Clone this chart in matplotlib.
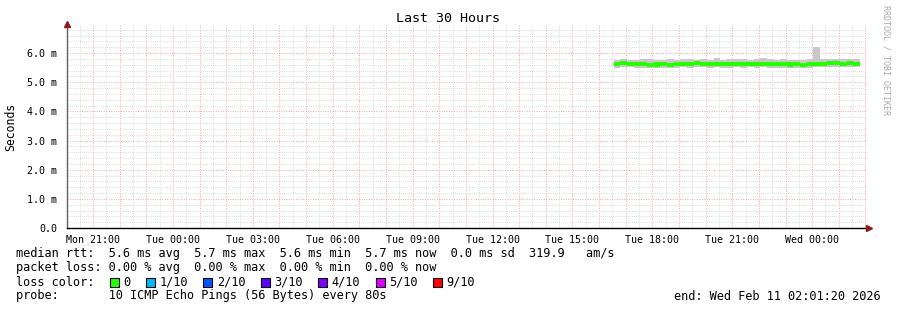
import matplotlib
matplotlib.use("Agg")
import matplotlib.pyplot as plt
from matplotlib.patches import Rectangle
import numpy as np

W, H = 897, 310
DPI = 100

# ---------------- data ----------------
title = "Last 30 Hours"
x_start = 20.0222          # hours since Mon 00:00 (Mon 20:01:20)
x_end = 50.0222            # Wed 02:01:20
bin_start = 40.55          # first data bin (hours since Mon 00:00)
bin_step = 0.25            # hours per bin
median_ms = [5.64, 5.65, 5.63, 5.62, 5.62, 5.60, 5.61, 5.62, 5.60, 5.62,
             5.63, 5.64, 5.65, 5.64, 5.63, 5.64, 5.63, 5.62, 5.64, 5.63,
             5.62, 5.62, 5.63, 5.64, 5.62, 5.63, 5.61, 5.62, 5.60, 5.62,
             5.64, 5.64, 5.65, 5.65, 5.64, 5.65, 5.64]
smoke_lo = [5.50, 5.51, 5.51, 5.48, 5.50, 5.49, 5.50, 5.48, 5.49, 5.50,
            5.51, 5.50, 5.51, 5.52, 5.49, 5.51, 5.48, 5.50, 5.51, 5.49,
            5.51, 5.48, 5.51, 5.50, 5.50, 5.48, 5.50, 5.49, 5.48, 5.50,
            5.51, 5.52, 5.52, 5.51, 5.52, 5.51, 5.52]
smoke_hi = [5.78, 5.80, 5.77, 5.76, 5.80, 5.81, 5.77, 5.77, 5.79, 5.78,
            5.80, 5.81, 5.78, 5.80, 5.78, 5.82, 5.78, 5.80, 5.79, 5.81,
            5.78, 5.80, 5.82, 5.79, 5.78, 5.79, 5.78, 5.77, 5.76, 5.80,
            6.20, 5.81, 5.80, 5.80, 5.81, 5.80, 5.81]
y_ticks = [0, 1, 2, 3, 4, 5, 6]
y_tick_labels = ["0.0", "1.0 m", "2.0 m", "3.0 m", "4.0 m", "5.0 m", "6.0 m"]
x_label_hours = [21, 24, 27, 30, 33, 36, 39, 42, 45, 48]
x_tick_labels = ["Mon 21:00", "Tue 00:00", "Tue 03:00", "Tue 06:00", "Tue 09:00",
                 "Tue 12:00", "Tue 15:00", "Tue 18:00", "Tue 21:00", "Wed 00:00"]
legend_lines = [
    "median rtt:  5.6 ms avg  5.7 ms max  5.6 ms min  5.7 ms now  0.0 ms sd  319.9   am/s",
    "packet loss: 0.00 % avg  0.00 % max  0.00 % min  0.00 % now",
]
loss_labels = ["0", "1/10", "2/10", "3/10", "4/10", "5/10", "9/10"]
loss_colors = ["#26ff00", "#00b8ff", "#0059ff", "#5e00ff", "#7e00ff", "#dd00ff", "#ff0000"]
probe_text = "probe:       10 ICMP Echo Pings (56 Bytes) every 80s"
end_text = "end: Wed Feb 11 02:01:20 2026"
ylabel = "Seconds"
watermark = "RRDTOOL / TOBI OETIKER"

# ---------------- figure ----------------
plt.rcParams['font.family'] = ['DejaVu Sans Mono']
fig = plt.figure(figsize=(W / DPI, H / DPI), dpi=DPI)
fig.patch.set_facecolor("white")

def fx(px):
    return px / W

def fy(py):
    return 1 - py / H

L, R, T, B = 67, 866, 24, 228
ax = fig.add_axes([fx(L), fy(B), fx(R) - fx(L), fy(T) - fy(B)])
ax.set_xlim(x_start, x_end)
ax.set_ylim(0, 7.0)
for s in ["top", "right"]:
    ax.spines[s].set_visible(False)
ax.spines["left"].set_color("#606060")
ax.spines["bottom"].set_color("#000000")
ax.spines["left"].set_linewidth(1)
ax.spines["bottom"].set_linewidth(1)

# grid
minor_c = "#d2d2d2"
major_c = "#f4a8a8"
minor_y = np.arange(0.2, 7.0, 0.2)
for yv in minor_y:
    if abs(yv - round(yv)) > 1e-6:
        ax.axhline(yv, color=minor_c, lw=0.6, ls=(0, (1, 1.5)), zorder=0)
for yv in y_ticks[1:]:
    ax.axhline(yv, color=major_c, lw=0.7, ls=(0, (1, 1.5)), zorder=0)
hh = np.arange(20.5, 50.01, 0.5)
for xv in hh:
    if abs(xv - round(xv)) > 1e-6:
        ax.axvline(xv, color=minor_c, lw=0.6, ls=(0, (1, 1.5)), zorder=0)
    else:
        ax.axvline(xv, color=major_c, lw=0.7, ls=(0, (1, 1.5)), zorder=0)

# smoke + median
xs = bin_start + bin_step * np.arange(len(median_ms))
lo = np.array(smoke_lo)
hi = np.array(smoke_hi)
med = np.array(median_ms)
ax.bar(xs, hi - lo, bottom=lo, width=bin_step, align="edge", color="#c8c8c8",
       linewidth=0, zorder=2)
ax.bar(xs, 0.14, bottom=med - 0.07, width=bin_step, align="edge", color=loss_colors[0],
       linewidth=0, zorder=3)

# ticks
ax.set_yticks(y_ticks)
ax.set_yticklabels(y_tick_labels, fontsize=7.2)
ax.set_xticks(x_label_hours)
ax.set_xticklabels(x_tick_labels, fontsize=7.2)
ax.tick_params(axis="y", length=0, pad=7)
ax.tick_params(axis="x", length=0, pad=5)

# arrows
ax.plot([x_start], [7.0], marker="^", color="#8b1a1a", markersize=4, clip_on=False, zorder=5)
ax.plot([x_end + 0.1], [0], marker=">", color="#8b1a1a", markersize=4, clip_on=False, zorder=5)

# texts
fig.text(fx(448), fy(19), title, ha="center", va="center", fontsize=9.6)
fig.text(fx(11), fy(127), ylabel, ha="center", va="center", rotation=90, fontsize=8.3)
fig.text(fx(886), fy(5), watermark, ha="center", va="top", rotation=-90,
         fontsize=6, color="#aaaaaa")

cw = 7.17
x0 = 16
fs = 8.6
fig.text(fx(x0), fy(254), legend_lines[0], ha="left", va="center", fontsize=fs)
fig.text(fx(x0), fy(268), legend_lines[1], ha="left", va="center", fontsize=fs)
fig.text(fx(x0), fy(282), "loss color:", ha="left", va="center", fontsize=fs)
col = 13
for lab, c in zip(loss_labels, loss_colors):
    sx = x0 + col * cw + 1
    fig.patches.append(Rectangle((fx(sx), fy(287)), fx(9), 9 / H, transform=fig.transFigure,
                                 facecolor=c, edgecolor="black", linewidth=0.8))
    fig.text(fx(x0 + (col + 2) * cw), fy(282), lab, ha="left", va="center", fontsize=fs)
    col += 2 + len(lab) + 2
fig.text(fx(x0), fy(296), probe_text, ha="left", va="center", fontsize=fs)
fig.text(fx(881), fy(296), end_text, ha="right", va="center", fontsize=fs)

fig.savefig("out.png", dpi=DPI, facecolor="white")
